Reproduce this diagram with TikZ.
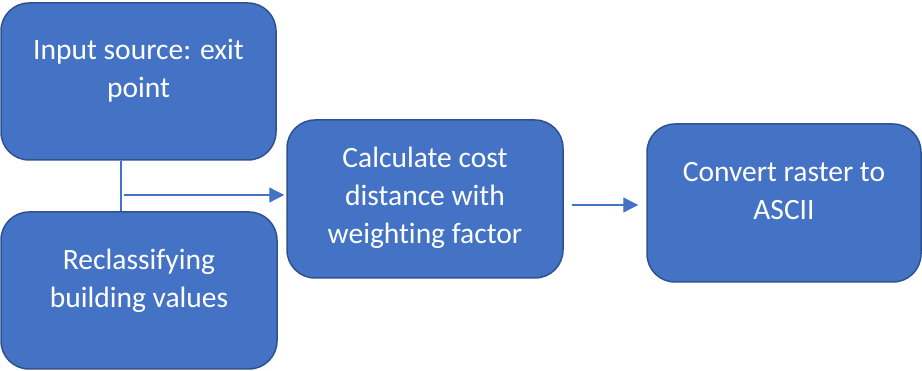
\documentclass[tikz,border=0pt]{standalone}
\usepackage{fontspec}
\setmainfont{Carlito}[Ligatures=CommonOff]
\usepackage{xcolor}
\usetikzlibrary{arrows.meta}
\definecolor{boxfill}{HTML}{4472C4}
\definecolor{boxline}{HTML}{2F528F}
\tikzset{
  procbox/.style={draw=boxline, fill=boxfill, line width=1.5pt, rounded corners=28pt,
    text=white, align=center, font=\fontsize{29.5}{38}\selectfont,
    text height=34pt, text depth=0pt, inner sep=0pt},
  flow/.style={draw=boxfill, line width=1.3pt, -{Triangle[length=15pt,width=15pt]}}
}
\begin{document}
\begin{tikzpicture}[x=1pt,y=-1pt]
      \useasboundingbox (0,0) rectangle (922,371);
      \node [procbox, minimum width=275pt, minimum height=157pt, text height=33pt] (src) at (138.5,81.5) {Input source: exit\\point};
      \node [procbox, minimum width=276pt, minimum height=157pt, text height=35pt] (recl) at (139,290.5) {Reclassifying\\building values};
      \node [procbox, minimum width=276pt, minimum height=158pt, text height=90pt] (calc) at (425,199) {Calculate cost\\distance with\\weighting factor};
      \node [procbox, minimum width=274pt, minimum height=158pt] (ascii) at (784,203) {Convert raster to\\ASCII};
      \coordinate (split) at (124,195);
      \draw [draw=boxfill, line width=1.3pt] (src.south -| 121,0) to (recl.north -| 121,0);
      \draw [flow, shorten >=2pt] (split) to (split -| calc.west);
      \draw [flow, shorten <=8pt, shorten >=8pt] ([yshift=-6pt]calc.east) to ([yshift=-6pt]calc.east -| ascii.west);
    \end{tikzpicture}
\end{document}
